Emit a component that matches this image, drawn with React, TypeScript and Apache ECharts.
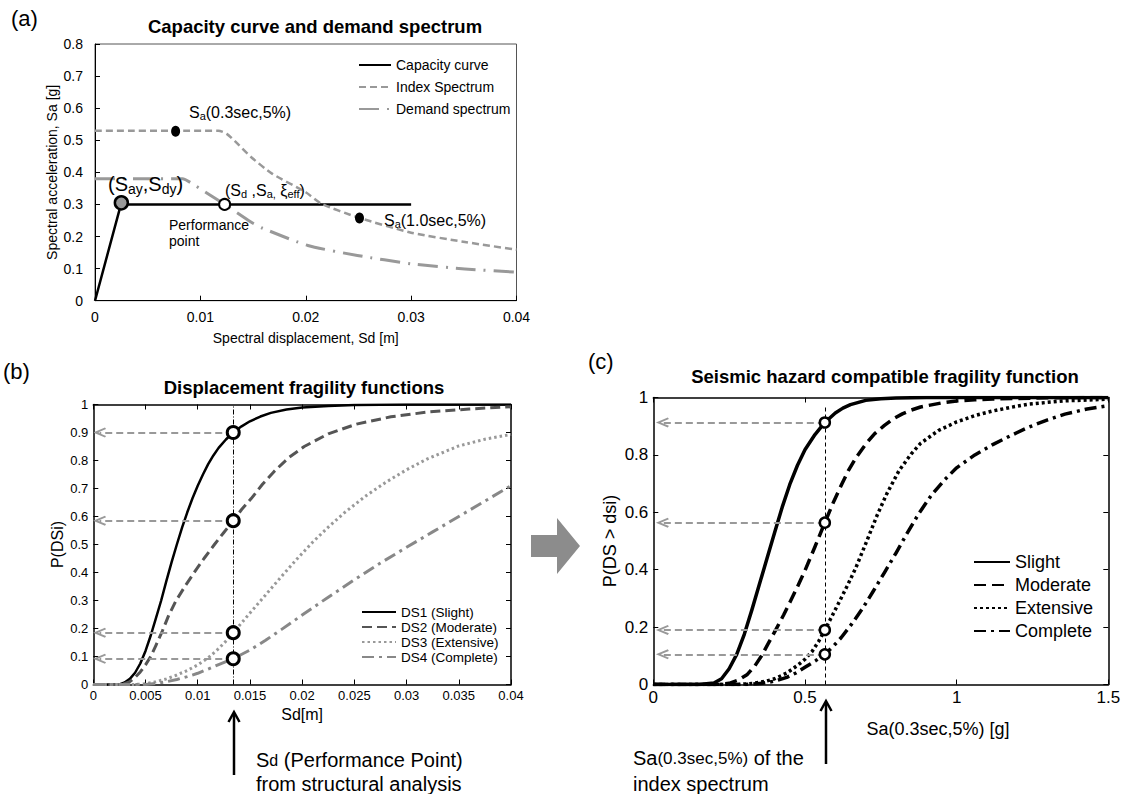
import React, { useEffect, useRef } from 'react';
import * as echarts from 'echarts';

const FONT = '"Liberation Sans", Arial, Helvetica, sans-serif';

// ---------- Panel (a): capacity curve and demand spectrum ----------
const aCapacity = [[0, 0], [0.0025, 0.305], [0.003, 0.3], [0.03, 0.3]];
const aIndexSpectrum = [
  [0, 0.53], [0.0117, 0.53], [0.0125, 0.52], [0.0135, 0.49], [0.0148, 0.448], [0.0168, 0.396],
  [0.02, 0.338], [0.0215, 0.302], [0.0249, 0.26], [0.03, 0.212], [0.0351, 0.183], [0.04, 0.159],
];
const aDemandSpectrum = [
  [0, 0.38], [0.0083, 0.38], [0.0095, 0.359], [0.0123, 0.3], [0.0148, 0.245], [0.0159, 0.226],
  [0.0202, 0.172], [0.0249, 0.141], [0.03, 0.115], [0.0351, 0.099], [0.04, 0.089],
];
const aSaPoints = [[0.00765, 0.528], [0.0251, 0.258]];
const aYieldPoint = [[0.0025, 0.305]];
const aPerformancePoint = [[0.0123, 0.3]];

// ---------- Panel (b): displacement fragility functions ----------
const bDS1 = [
  [0, 0], [0.0025, 0], [0.003, 0.007], [0.0035, 0.02], [0.004, 0.042], [0.0045, 0.075], [0.005, 0.12],
  [0.0055, 0.175], [0.006, 0.237], [0.0065, 0.3], [0.007, 0.37], [0.0075, 0.437], [0.008, 0.5],
  [0.0085, 0.56], [0.009, 0.615], [0.0095, 0.665], [0.01, 0.71], [0.0105, 0.75], [0.011, 0.787],
  [0.0115, 0.818], [0.012, 0.845], [0.0127, 0.875], [0.0134, 0.9], [0.0142, 0.922], [0.015, 0.94],
  [0.016, 0.957], [0.017, 0.97], [0.0185, 0.982], [0.02, 0.989], [0.0225, 0.995], [0.025, 0.998],
  [0.03, 1], [0.04, 1],
];
const bDS2 = [
  [0, 0], [0.0028, 0], [0.0035, 0.01], [0.004, 0.025], [0.0045, 0.045], [0.005, 0.07], [0.0055, 0.1],
  [0.006, 0.14], [0.0066, 0.19], [0.0072, 0.245], [0.0079, 0.298], [0.0088, 0.352], [0.0097, 0.402],
  [0.0106, 0.45], [0.0116, 0.5], [0.0125, 0.543], [0.0134, 0.585], [0.0142, 0.625], [0.0151, 0.663],
  [0.0162, 0.715], [0.0173, 0.76], [0.0187, 0.81], [0.0202, 0.85], [0.0225, 0.895], [0.0252, 0.93],
  [0.0285, 0.956], [0.032, 0.973], [0.036, 0.984], [0.04, 0.992],
];
const bDS3 = [
  [0, 0], [0.004, 0], [0.005, 0.003], [0.006, 0.01], [0.007, 0.02], [0.008, 0.034], [0.009, 0.05],
  [0.01, 0.07], [0.011, 0.095], [0.012, 0.128], [0.0127, 0.155], [0.0134, 0.185], [0.015, 0.255],
  [0.0165, 0.32], [0.018, 0.385], [0.0195, 0.448], [0.021, 0.508], [0.0225, 0.562], [0.024, 0.612],
  [0.026, 0.671], [0.028, 0.722], [0.03, 0.767], [0.032, 0.806], [0.035, 0.852], [0.0375, 0.876],
  [0.04, 0.893],
];
const bDS4 = [
  [0, 0], [0.005, 0], [0.006, 0.004], [0.007, 0.01], [0.008, 0.018], [0.009, 0.028], [0.01, 0.04],
  [0.011, 0.055], [0.012, 0.071], [0.0134, 0.092], [0.015, 0.123], [0.0165, 0.158], [0.018, 0.196],
  [0.02, 0.248], [0.0225, 0.312], [0.025, 0.374], [0.0275, 0.434], [0.03, 0.49], [0.0325, 0.545],
  [0.035, 0.6], [0.0375, 0.655], [0.04, 0.71],
];
const bSdPerformance = 0.0134;
const bProbAtPerformance = [0.9, 0.585, 0.185, 0.092];
const bArrowEndX = 0.0006;

// ---------- Panel (c): seismic hazard compatible fragility ----------
const cSlight = [
  [0, 0], [0.15, 0], [0.2, 0.005], [0.225, 0.02], [0.25, 0.055], [0.275, 0.105], [0.3, 0.175],
  [0.325, 0.26], [0.35, 0.35], [0.375, 0.44], [0.4, 0.53], [0.425, 0.618], [0.45, 0.697],
  [0.475, 0.763], [0.5, 0.818], [0.533, 0.871], [0.5655, 0.913], [0.6, 0.946], [0.625, 0.963],
  [0.65, 0.975], [0.7, 0.99], [0.75, 0.996], [0.8, 0.998], [0.9, 1], [1.5, 1],
];
const cModerate = [
  [0, 0], [0.22, 0], [0.25, 0.004], [0.28, 0.015], [0.31, 0.035], [0.335, 0.065], [0.357, 0.1],
  [0.38, 0.145], [0.405, 0.193], [0.43, 0.243], [0.452, 0.29], [0.475, 0.34], [0.5, 0.397],
  [0.533, 0.48], [0.5655, 0.564], [0.595, 0.638], [0.62, 0.695], [0.643, 0.745], [0.67, 0.793],
  [0.702, 0.84], [0.73, 0.874], [0.762, 0.903], [0.79, 0.925], [0.821, 0.943], [0.85, 0.956],
  [0.881, 0.967], [0.95, 0.981], [1.0, 0.988], [1.06, 0.992], [1.119, 0.995], [1.3, 0.999], [1.5, 1],
];
const cExtensive = [
  [0, 0], [0.28, 0], [0.33, 0.004], [0.37, 0.011], [0.4, 0.02], [0.44, 0.04], [0.476, 0.067],
  [0.5, 0.088], [0.524, 0.116], [0.545, 0.15], [0.5655, 0.19], [0.59, 0.24], [0.615, 0.292],
  [0.64, 0.345], [0.667, 0.405], [0.7, 0.49], [0.738, 0.59], [0.77, 0.665], [0.81, 0.745],
  [0.85, 0.803], [0.881, 0.84], [0.94, 0.885], [1.0, 0.915], [1.06, 0.937], [1.119, 0.953],
  [1.18, 0.966], [1.238, 0.977], [1.35, 0.988], [1.5, 0.994],
];
const cComplete = [
  [0, 0], [0.3, 0], [0.36, 0.004], [0.4, 0.012], [0.44, 0.025], [0.47, 0.04], [0.5, 0.06],
  [0.535, 0.083], [0.5655, 0.105], [0.595, 0.135], [0.619, 0.163], [0.655, 0.212], [0.69, 0.265],
  [0.725, 0.325], [0.762, 0.39], [0.8, 0.458], [0.833, 0.52], [0.875, 0.595], [0.917, 0.66],
  [0.96, 0.713], [1.0, 0.755], [1.06, 0.8], [1.119, 0.836], [1.18, 0.868], [1.238, 0.897],
  [1.3, 0.922], [1.357, 0.942], [1.43, 0.96], [1.5, 0.972],
];
const cSaIndex = 0.5655;
const cProbAtSa = [0.913, 0.564, 0.19, 0.105];
const cArrowEndX = 0.03;
const cVerticalTop = 0.97;

const CHEVRON = 'path://M5,0 L10,11 L8.4,12 L5,4.5 L1.6,12 L0,11 Z';

function axisBase(fontSize: number, margin: number) {
  return {
    type: 'value',
    nameMoveOverlap: false,
    axisLine: { show: true, onZero: false, lineStyle: { color: '#000', width: 1 } },
    axisTick: { show: true, inside: true, length: 5, lineStyle: { color: '#000', width: 1 } },
    axisLabel: { show: true, color: '#000', fontSize, fontFamily: FONT, margin },
    splitLine: { show: false },
    nameTextStyle: { color: '#000', fontFamily: FONT },
  };
}

function frameAxis(grid: number, min: number, max: number, interval: number, position: string) {
  return {
    type: 'value',
    gridIndex: grid,
    min,
    max,
    interval,
    position,
    axisLine: { show: true, onZero: false, lineStyle: { color: '#000', width: 1.5 } },
    axisTick: { show: true, inside: true, length: 5, lineStyle: { color: '#000', width: 1 } },
    axisLabel: { show: false },
    splitLine: { show: false },
  };
}

function lineSeries(name: string, xi: number, yi: number, data: number[][], color: string, width: number, type: any) {
  return {
    name,
    type: 'line',
    xAxisIndex: xi,
    yAxisIndex: yi,
    data,
    symbol: 'none',
    smooth: false,
    lineStyle: { color, width, type, join: 'round' },
    itemStyle: { color },
    z: 3,
  };
}

function arrowSeries(xi: number, yi: number, x: number, probs: number[], endX: number) {
  return {
    type: 'scatter',
    xAxisIndex: xi,
    yAxisIndex: yi,
    data: probs.map((p) => [x, p]),
    symbolSize: 0,
    silent: true,
    z: 2,
    markLine: {
      silent: true,
      animation: false,
      symbol: ['none', CHEVRON],
      symbolSize: [10, 13],
      label: { show: false },
      lineStyle: { color: '#999', width: 2, type: [7, 4] },
      data: probs.map((p) => [{ coord: [x, p] }, { coord: [endX, p] }]),
    },
  };
}

function vLineSeries(xi: number, yi: number, x: number, top: number, dash: number[]) {
  return {
    type: 'scatter',
    xAxisIndex: xi,
    yAxisIndex: yi,
    data: [[x, 0]],
    symbolSize: 0,
    silent: true,
    z: 2,
    markLine: {
      silent: true,
      animation: false,
      symbol: ['none', 'none'],
      label: { show: false },
      lineStyle: { color: '#000', width: 1, type: dash },
      data: [[{ coord: [x, 0] }, { coord: [x, top] }]],
    },
  };
}

function markerSeries(xi: number, yi: number, x: number, probs: number[], size: number, bw: number) {
  return {
    type: 'scatter',
    xAxisIndex: xi,
    yAxisIndex: yi,
    data: probs.map((p) => [x, p]),
    symbol: 'circle',
    symbolSize: size,
    itemStyle: { color: '#fff', borderColor: '#000', borderWidth: bw, opacity: 1 },
    z: 10,
    silent: true,
  };
}

function txt(x: number, y: number, text: string, fontSize: number, extra: any = {}, rich?: any) {
  return {
    type: 'text',
    x,
    y,
    silent: true,
    z: 100,
    style: {
      text,
      fill: '#000',
      fontSize,
      fontFamily: FONT,
      align: 'left',
      verticalAlign: 'middle',
      textAlign: 'left',
      textVerticalAlign: 'middle',
      rich,
      ...extra,
    },
  };
}

function buildOption() {
  const subRich = (main: number, sub: number, drop: number) => ({
    m: { fontSize: main, fontFamily: FONT, fill: '#000' },
    s: { fontSize: sub, fontFamily: FONT, fill: '#000', padding: [drop, 0, 0, 0] },
    g: { fontSize: main, fontFamily: FONT, fill: '#000' },
  });
  const bold = { fontWeight: 'bold', align: 'center', textAlign: 'center' };

  const graphic: any[] = [
    // panel letters
    txt(11, 18, '(a)', 22),
    txt(3, 371, '(b)', 22),
    txt(588, 361, '(c)', 22),
    // titles
    txt(315, 26, 'Capacity curve and demand spectrum', 18.5, bold),
    txt(304, 387, 'Displacement fragility functions', 18.5, bold),
    txt(885, 376, 'Seismic hazard compatible fragility function', 18.5, bold),
    // panel (a) annotations
    txt(189, 112, '{m|S}{s|a}{m|(0.3sec,5%)}', 16, {}, subRich(16, 11, 8)),
    txt(108, 184, '{m|(S}{s|ay}{m|,S}{s|dy}{m|)}', 20, {}, subRich(20, 14, 9)),
    txt(225, 190, '{m|(S}{s|d}{m| ,S}{s|a,}{m| }{g|ξ}{s|eff}{m|)}', 16, {}, subRich(16, 11, 8)),
    txt(169, 233, 'Performance\npoint', 14, { lineHeight: 16.5 }),
    txt(384, 220, '{m|S}{s|a}{m|(1.0sec,5%)}', 16, {}, subRich(16, 11, 8)),
    // panel (c) x-axis name
    txt(938, 729, 'Sa(0.3sec,5%) [g]', 18, { align: 'center', textAlign: 'center' }),
    // bottom annotations
    txt(256, 772, '{m|S}{d|d}{m| (Performance Point)}\n{m|from structural analysis}', 20, {}, {
      m: { fontSize: 20, fontFamily: FONT, fill: '#000', lineHeight: 24 },
      d: { fontSize: 16, fontFamily: FONT, fill: '#000', lineHeight: 24 },
    }),
    txt(633, 771, '{m|Sa}{d|(0.3sec,5%)}{m| of the}\n{m|index spectrum}', 20, {}, {
      m: { fontSize: 20, fontFamily: FONT, fill: '#000', lineHeight: 26 },
      d: { fontSize: 17, fontFamily: FONT, fill: '#000', lineHeight: 26 },
    }),
    // up arrows
    { type: 'line', silent: true, shape: { x1: 234, y1: 713, x2: 234, y2: 775 }, style: { stroke: '#000', lineWidth: 2.5 } },
    { type: 'polyline', silent: true, shape: { points: [[228.5, 722], [234, 712], [239.5, 722]] }, style: { stroke: '#000', lineWidth: 2.5, fill: null } },
    { type: 'line', silent: true, shape: { x1: 826, y1: 702, x2: 826, y2: 764 }, style: { stroke: '#000', lineWidth: 2.5 } },
    { type: 'polyline', silent: true, shape: { points: [[820.5, 711], [826, 701], [831.5, 711]] }, style: { stroke: '#000', lineWidth: 2.5, fill: null } },
    // big grey arrow between (b) and (c)
    {
      type: 'polygon',
      silent: true,
      shape: { points: [[531, 535], [557, 535], [557, 518], [580, 546], [557, 574], [557, 557], [531, 557]] },
      style: { fill: '#8c8c8c' },
    },
  ];

  const legendBase = (size: number) => ({
    orient: 'vertical',
    padding: 0,
    selectedMode: false,
    itemStyle: { opacity: 0 },
    textStyle: { fontSize: size, color: '#000', fontFamily: FONT },
  });

  return {
    animation: false,
    backgroundColor: '#fff',
    grid: [
      { left: 95, top: 44, width: 421.5, height: 256.7, show: true, borderColor: '#555', borderWidth: 1, backgroundColor: 'transparent', outerBoundsMode: 'none' },
      { left: 93.3, top: 404.5, width: 417.7, height: 280, outerBoundsMode: 'none' },
      { left: 653.3, top: 397.5, width: 455, height: 287, outerBoundsMode: 'none' },
    ],
    xAxis: [
      {
        ...axisBase(14, 9.5), gridIndex: 0, min: 0, max: 0.04, interval: 0.01,
        name: 'Spectral displacement, Sd [m]', nameLocation: 'middle', nameGap: 30,
        nameTextStyle: { color: '#000', fontFamily: FONT, fontSize: 14 },
      },
      {
        ...axisBase(13, 4), gridIndex: 1, min: 0, max: 0.04, interval: 0.005,
        axisLine: { show: true, onZero: false, lineStyle: { color: '#000', width: 1.5 } },
        name: 'Sd[m]', nameLocation: 'middle', nameGap: 22,
        nameTextStyle: { color: '#000', fontFamily: FONT, fontSize: 16 },
      },
      frameAxis(1, 0, 0.04, 0.005, 'top'),
      {
        ...axisBase(17, 4), gridIndex: 2, min: 0, max: 1.5, interval: 0.5,
        axisLine: { show: true, onZero: false, lineStyle: { color: '#000', width: 1.5 } },
      },
      frameAxis(2, 0, 1.5, 0.5, 'top'),
    ],
    yAxis: [
      {
        ...axisBase(14, 12), gridIndex: 0, min: 0, max: 0.8, interval: 0.1,
        name: 'Spectral acceleration, Sa [g]', nameLocation: 'middle', nameGap: 36,
        nameTextStyle: { color: '#000', fontFamily: FONT, fontSize: 14 },
      },
      {
        ...axisBase(13, 5), gridIndex: 1, min: 0, max: 1, interval: 0.1,
        axisLine: { show: true, onZero: false, lineStyle: { color: '#000', width: 1.5 } },
        name: 'P(DSi)', nameLocation: 'middle', nameGap: 28,
        nameTextStyle: { color: '#000', fontFamily: FONT, fontSize: 16 },
      },
      frameAxis(1, 0, 1, 0.1, 'right'),
      {
        ...axisBase(17, 5), gridIndex: 2, min: 0, max: 1, interval: 0.2,
        axisLine: { show: true, onZero: false, lineStyle: { color: '#000', width: 1.5 } },
        name: 'P(DS > dsi)', nameLocation: 'middle', nameGap: 34,
        nameTextStyle: { color: '#000', fontFamily: FONT, fontSize: 18 },
      },
      frameAxis(2, 0, 1, 0.2, 'right'),
    ],
    legend: [
      {
        ...legendBase(14),
        data: ['Capacity curve', 'Index Spectrum', 'Demand spectrum'],
        left: 358, top: 58, itemWidth: 32, itemHeight: 12, itemGap: 8,
      },
      {
        ...legendBase(13.5),
        data: ['DS1 (Slight)', 'DS2 (Moderate)', 'DS3 (Extensive)', 'DS4 (Complete)'],
        left: 361, top: 605, itemWidth: 34, itemHeight: 10, itemGap: 1,
      },
      {
        ...legendBase(18),
        data: ['Slight', 'Moderate', 'Extensive', 'Complete'],
        left: 973, top: 553, itemWidth: 36, itemHeight: 12, itemGap: 5,
      },
    ],
    series: [
      // (a)
      lineSeries('Capacity curve', 0, 0, aCapacity, '#000', 2.5, 'solid'),
      { ...lineSeries('Index Spectrum', 0, 0, aIndexSpectrum, '#999', 2.5, [7, 4]), smooth: 0.2 },
      { ...lineSeries('Demand spectrum', 0, 0, aDemandSpectrum, '#999', 3, [20, 8, 2, 8]), smooth: 0.2 },
      {
        type: 'scatter', xAxisIndex: 0, yAxisIndex: 0, data: aSaPoints, symbol: 'circle', symbolSize: [9, 11],
        itemStyle: { color: '#000', opacity: 1 }, z: 10, silent: true,
      },
      {
        type: 'scatter', xAxisIndex: 0, yAxisIndex: 0, data: aYieldPoint, symbol: 'circle', symbolSize: 13,
        itemStyle: { color: '#999', borderColor: '#000', borderWidth: 2.5, opacity: 1 }, z: 10, silent: true,
      },
      {
        type: 'scatter', xAxisIndex: 0, yAxisIndex: 0, data: aPerformancePoint, symbol: 'circle', symbolSize: 11,
        itemStyle: { color: '#fff', borderColor: '#000', borderWidth: 2, opacity: 1 }, z: 10, silent: true,
      },
      // (b)
      vLineSeries(1, 1, bSdPerformance, 1, [5, 2, 1, 2]),
      arrowSeries(1, 1, bSdPerformance, bProbAtPerformance, bArrowEndX),
      lineSeries('DS1 (Slight)', 1, 1, bDS1, '#000', 2.5, 'solid'),
      lineSeries('DS2 (Moderate)', 1, 1, bDS2, '#555', 3, [10, 5]),
      lineSeries('DS3 (Extensive)', 1, 1, bDS3, '#999', 3, [2.5, 3]),
      lineSeries('DS4 (Complete)', 1, 1, bDS4, '#888', 3, [12, 5, 3, 5]),
      markerSeries(1, 1, bSdPerformance, bProbAtPerformance, 12, 3),
      // (c)
      vLineSeries(3, 3, cSaIndex, cVerticalTop, [4, 3]),
      arrowSeries(3, 3, cSaIndex, cProbAtSa, cArrowEndX),
      lineSeries('Slight', 3, 3, cSlight, '#000', 3.5, 'solid'),
      lineSeries('Moderate', 3, 3, cModerate, '#000', 3.5, [12, 6]),
      lineSeries('Extensive', 3, 3, cExtensive, '#000', 3.5, [3, 3]),
      lineSeries('Complete', 3, 3, cComplete, '#000', 3.5, [12, 5, 3, 5]),
      markerSeries(3, 3, cSaIndex, cProbAtSa, 10, 2.5),
    ],
    graphic,
  };
}

export default function App() {
  const ref = useRef<HTMLDivElement>(null);
  useEffect(() => {
    if (!ref.current) return;
    const chart = echarts.init(ref.current, null, { renderer: 'svg' });
    chart.setOption(buildOption() as any);
    return () => chart.dispose();
  }, []);
  return (
    <div
      ref={ref}
      style={{ position: 'absolute', left: 0, top: 0, width: 1125, height: 794, background: '#fff' }}
    />
  );
}
